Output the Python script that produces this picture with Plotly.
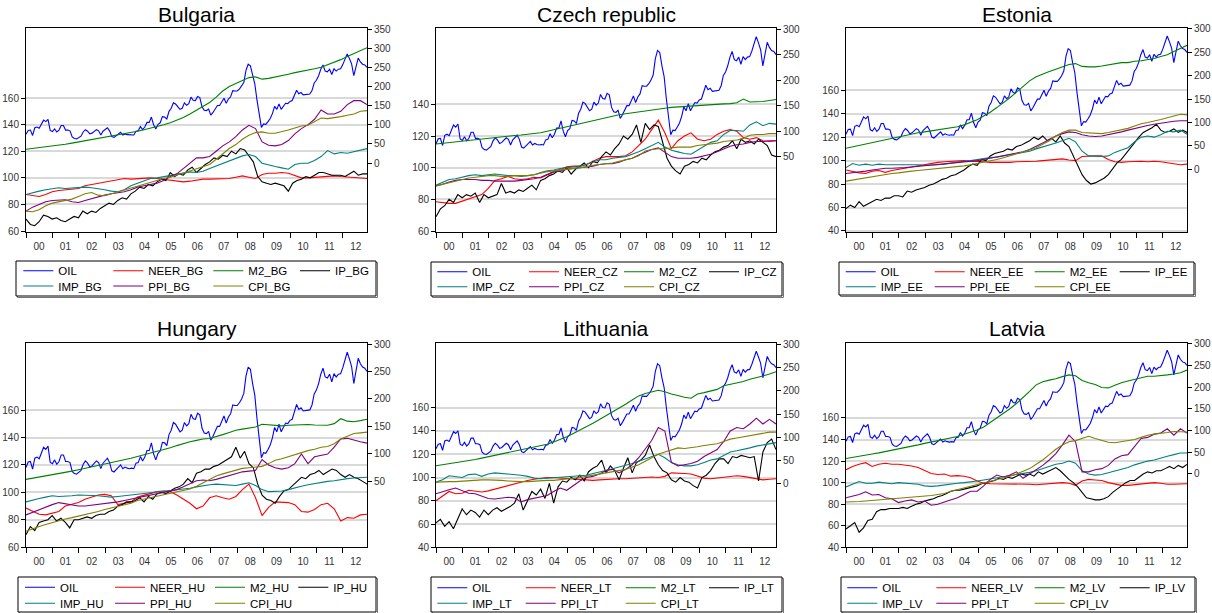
import plotly.graph_objects as go

# ---------------- data (monthly sample 2000M01-2012M12) ----------------
YEAR_LABELS = ["00", "01", "02", "03", "04", "05", "06", "07", "08", "09", "10", "11", "12"]
N_MONTHS = 156

# Oil price index (same series in every panel, right axis), monthly
OIL = [75, 85, 86, 72, 92, 94, 91, 100, 112, 108, 114, 85,
       82, 89, 81, 86, 98, 98, 86, 86, 84, 68, 64, 63,
       66, 70, 81, 87, 83, 76, 78, 82, 87, 84, 73, 83,
       88, 92, 84, 69, 67, 71, 75, 80, 73, 76, 74, 73,
       74, 73, 83, 84, 95, 87, 94, 106, 106, 120, 100, 89,
       101, 105, 121, 120, 115, 135, 143, 157, 154, 146, 140, 143,
       157, 151, 155, 172, 164, 163, 174, 171, 147, 138, 137, 141,
       125, 132, 141, 150, 150, 159, 169, 156, 167, 173, 189, 188,
       188, 193, 200, 210, 242, 258, 254, 228, 207, 164, 125, 93,
       102, 101, 108, 116, 129, 148, 140, 154, 140, 149, 156, 155,
       161, 163, 175, 190, 181, 184, 178, 179, 179, 180, 189, 209,
       216, 228, 245, 256, 240, 238, 245, 231, 246, 240, 245, 246,
       257, 271, 285, 273, 259, 228, 251, 274, 264, 258, 256, 250]

# ---- Bulgaria (quarterly-spaced readings; IP bimonthly-spaced readings)
BG_NEER = [87.5, 86.5, 86, 87.5, 89.5, 90.5, 91, 91, 92, 94, 95, 95.5, 97, 98, 98.5, 99.5, 99, 99.5, 100, 100,
           99.5, 99, 98.5, 98, 97, 97.5, 98.5, 99, 99, 99, 99, 99.5, 100.5, 101.5, 100.5, 99.5, 102.5, 103.5,
           103.5, 104, 103.5, 101.5, 100, 100, 100.5, 101, 101.5, 101.5, 101, 100.5, 100, 99.5, 99.5]
BG_M2 = [36, 38, 40, 42, 44, 47, 49, 52, 55, 58, 61, 64, 67, 70, 73, 76, 79, 83, 87, 91, 95, 100, 105, 111,
         119, 128, 138, 148, 158, 172, 188, 200, 208, 216, 223, 225, 219, 221, 224, 228, 232, 236, 239, 242,
         246, 250, 256, 263, 270, 278, 286, 294, 301]
BG_IP = [69, 65, 64, 67, 72, 71, 69, 70, 68, 67, 69, 71, 70, 75, 73, 75, 74, 77, 79, 81, 80, 83, 85, 84,
         88, 90, 93, 92, 95, 94, 97, 99, 98, 104, 101, 103, 102, 106, 108, 104, 107, 110, 112, 115, 114, 117,
         116, 120, 118, 122, 121, 116, 112, 101, 97, 96, 95, 96, 95, 94, 90, 96, 98, 99, 101, 100, 102, 104,
         104, 103, 102, 102, 102, 101, 103, 105, 102, 103, 103]
BG_IMP = [87.5, 89, 90, 91, 92, 92.5, 92, 92.5, 93, 93, 92.5, 92, 91, 90, 89.5, 91, 94, 96, 98, 99.5, 100, 101,
          102, 102.5, 103.5, 104.5, 104, 105, 107, 109, 111, 113, 115, 116.5, 117.5, 116, 111, 109.5, 108.5,
          107.5, 106.5, 110, 111, 111, 113, 116, 120.5, 118, 119, 118.5, 119.5, 120.5, 122]
BG_PPI = [75, 78, 80, 82, 83, 83.5, 83.5, 82, 81.5, 83, 84.5, 85.5, 87, 88, 88.5, 89.5, 91, 93, 94, 95, 96, 98,
          101, 103, 107, 111, 115, 115, 116, 120, 124, 127, 131, 136, 139.5, 137, 127, 124.5, 124, 125, 128,
          133, 137, 140, 144, 151, 148, 148, 150, 155, 158, 158, 155]
BG_CPI = [75, 74.5, 76, 79, 81, 82, 82.5, 84, 86, 88, 89, 87, 86.5, 88, 89, 90.5, 92, 93.5, 95, 96.5, 98, 99.5,
          100.5, 102, 103.5, 105, 106.5, 108, 110, 114, 118, 122, 125, 129, 132, 134, 134.5, 133.5, 133.5, 134.5,
          136, 137.5, 139, 139.5, 142, 145, 144.5, 145, 146, 147, 148, 150, 150.5]

# ---- Czech republic
CZ_NEER = [78.5, 78, 77.5, 77.5, 79, 80.5, 82, 83, 87, 92, 93, 94.5, 93, 92.5, 93, 94, 93.5, 95.5, 97, 99,
           100.5, 101, 101, 102, 104, 106, 107, 107, 107, 107.5, 110, 114, 118, 124, 130, 122, 112, 117, 120,
           122, 118, 117, 118, 121, 123, 124, 123, 119, 118, 119, 117, 116.5, 117]
CZ_M2 = [75, 76.5, 78, 79.5, 81, 82.5, 84, 85.5, 87, 88, 89, 90, 91.5, 92.5, 94, 95.5, 97, 100, 103, 106, 109,
         112, 115, 118, 121, 124, 127, 129.5, 132, 134, 136, 138, 140, 142, 143.5, 145, 146.5, 147.5, 148.5,
         149.5, 150.5, 151, 151.5, 152.5, 153.5, 154, 155.5, 163, 157, 157.5, 158, 160, 162]
CZ_IP = [69, 74, 76, 80, 78, 83, 81, 83, 82, 84, 78, 83, 81, 82, 83, 90, 84, 85, 84, 86, 85, 87, 89, 86,
         92, 93, 95, 96, 98, 97, 100, 96, 99, 101, 103, 100, 104, 103, 107, 110, 108, 112, 115, 120, 118, 121,
         127, 116, 128, 124, 127, 126, 116, 106, 101, 98, 96, 101, 102, 104, 103, 106, 105, 108, 110, 111,
         113, 114, 117, 112, 118, 116, 117, 115, 118, 116, 114, 108, 107]
CZ_IMP = [89, 91, 92.5, 93, 94, 95, 95.5, 95, 95.5, 96, 95.5, 95, 95, 94.5, 95, 95.5, 97, 98, 98.5, 99.5, 100,
          100.5, 101, 102, 103.5, 105, 105, 106, 106.5, 107, 108.5, 110, 112, 114, 116, 113, 111, 110, 109,
          108.5, 111, 114, 116, 117, 121, 123.5, 123.5, 123, 127, 129, 126.5, 128, 127.5]
CZ_PPI = [88.5, 89.5, 91, 92, 92.5, 92.5, 92.5, 92, 92, 91.5, 91.5, 91.5, 91.5, 92, 92.5, 93, 94, 96, 97.5, 98,
          99, 99.5, 100, 100.5, 101, 102, 102.5, 102.5, 103.5, 105, 106, 108, 110, 111.5, 112.5, 110, 107, 106,
          106, 106, 106.5, 107.5, 108.5, 110, 112, 113.5, 114.5, 115, 116, 116.5, 116.5, 117, 117]
CZ_CPI = [88.5, 89.5, 90.5, 91.5, 92.5, 93.5, 94, 94.5, 95, 95, 94.5, 94.5, 95, 95, 95, 95.5, 96.5, 97.5, 98,
          98.5, 99, 99.5, 100, 100.5, 101.5, 102, 102.5, 103, 104, 105, 106, 107.5, 110.5, 111.5, 112, 112,
          112.5, 113, 113, 113, 114, 114.5, 115, 115.5, 116.5, 117, 117.5, 118.5, 120.5, 121, 121, 121.5, 121.5]

# ---- Estonia
EE_NEER = [92, 90.5, 89.5, 89, 91, 91.5, 90, 91.5, 92.5, 93.5, 94.5, 95.5, 97, 98, 98.5, 99, 99.5, 100, 100,
           99.5, 99.5, 99, 98.5, 98.5, 98, 98.5, 99, 99, 99, 99.5, 100, 100.5, 101, 101.5, 100.5, 100, 103.5,
           104, 104, 104, 101, 99, 98.5, 99, 99.5, 99.5, 99, 99.5, 99, 98, 97, 96.5, 97]
EE_M2 = [45, 48, 51, 54, 57, 60, 63, 66, 70, 73, 75.5, 78, 80, 82, 84, 86, 88, 91, 95, 100, 106, 114, 122, 132,
         142, 153, 165, 177, 189, 198, 204, 209, 214, 219, 224, 226, 220, 219, 219, 221, 223, 226, 228, 228,
         231, 232, 234, 237, 241, 245, 252, 259, 265]
EE_IP = [59, 62, 60, 65, 61, 63, 65, 67, 66, 68, 68, 70, 70, 69, 74, 73, 75, 76, 77, 79, 80, 82, 84, 85,
         87, 88, 90, 92, 95, 97, 96, 101, 100, 104, 106, 107, 108, 110, 109, 112, 113, 115, 117, 120, 118, 121,
         117, 119, 116, 121, 115, 112, 104, 95, 88, 83, 80, 81, 83, 85, 88, 93, 98, 101, 106, 111, 116, 120,
         124, 126, 128, 131, 126, 124, 125, 127, 124, 126, 124]
EE_IMP = [94, 97.5, 96, 97, 96, 97, 96.5, 96.5, 97, 97, 96.5, 96.5, 96, 96, 96.5, 97, 98, 99, 99.5, 100, 101,
          102, 102.5, 103, 104, 105, 106, 107, 108, 110, 111.5, 113, 115, 117, 119, 116, 108, 104, 103.5, 103.5,
          104, 107, 109, 111, 116, 120, 121, 120, 122, 125, 124.5, 126, 122.5]
EE_PPI = [89, 89.5, 90, 91, 92, 93, 93.5, 93.5, 93.5, 94, 94.5, 95, 95.5, 96, 96.5, 97, 97.5, 98, 99, 99.5, 100,
          101, 102, 103, 104, 105, 106, 107.5, 109.5, 112, 115, 118, 121, 123, 124.5, 124, 122, 121, 120.5, 121,
          122, 123.5, 124.5, 126, 127.5, 129, 130, 131, 132, 133, 133.5, 134, 134]
EE_CPI = [82.5, 83.5, 84.5, 85.5, 86.5, 87.5, 88.5, 89, 89.5, 90.5, 91, 91.5, 92, 92.5, 93, 93.5, 94, 95, 95.5,
          96.5, 97.5, 99, 100, 101, 102.5, 104, 105.5, 107, 109, 111, 114, 117, 121, 124, 126, 126, 124, 123.5,
          123, 123, 124, 125, 126, 127.5, 129.5, 131.5, 132.5, 133.5, 135, 136.5, 138, 139.5, 139]

# ---- Hungary
HU_NEER = [88.5, 86, 84, 83.5, 84.5, 86, 90, 91, 92.5, 95, 96.5, 98, 98.5, 97.5, 91, 92, 93, 96.5, 98, 99.5,
           100.5, 101, 100.5, 98, 95, 92, 88, 90, 96, 97.5, 96, 95, 97, 102, 106, 96, 83, 89, 93, 93, 92.5, 91,
           86, 85.5, 87.5, 91, 92, 88, 79, 81.5, 81, 83.5, 84]
HU_M2 = [53.5, 55.5, 57.5, 59.5, 61.5, 63.5, 66, 68.5, 71, 73.5, 76, 79, 81.5, 84, 86.5, 89, 92, 95, 98, 101,
         104, 107.5, 111, 115, 119, 122, 124.5, 127, 128, 131, 135, 139, 143, 145, 147, 149, 154, 153, 152, 151,
         152, 152.5, 153, 153.5, 152.5, 152, 152, 155, 164, 159.5, 158.5, 160.5, 163]
HU_IP = [69, 75, 72, 78, 79, 80, 83, 79, 81, 78, 74, 80, 80, 81, 82, 81, 83, 84, 84, 86, 87, 90, 91, 93,
         93, 94, 96, 93, 97, 95, 99, 100, 99, 101, 103, 104, 106, 110, 107, 114, 115, 117, 117, 119, 120, 122,
         124, 126, 133, 125, 130, 121, 118, 106, 98, 95, 94, 92, 97, 101, 102, 105, 108, 111, 110, 113, 114,
         116, 113, 115, 117, 116, 113, 111, 113, 111, 110, 108, 106]
HU_IMP = [93, 94.5, 95.5, 96.5, 97.5, 97, 97, 97.5, 98, 98, 97.5, 97.5, 97, 96.5, 97, 97.5, 98, 98.5, 99, 99.5,
          100, 100.5, 101, 101.5, 102, 103, 104, 105, 105.5, 106, 105.5, 105, 105, 106, 107, 105, 102, 100.5,
          100.5, 101, 102, 103.5, 104.5, 105.5, 106.5, 107.5, 108, 108.5, 109.5, 110, 110.5, 110.5, 111]
HU_PPI = [83.5, 85.5, 87.5, 89, 91, 92.5, 91.5, 90.5, 90, 90, 90.5, 91, 91.5, 92, 93, 94, 95, 96, 96.5, 97.5,
          98.5, 99.5, 100.5, 102, 104, 106.5, 108.5, 109, 108.5, 109.5, 111, 112.5, 114, 115, 115.5, 116, 124,
          120, 118, 117, 118, 121, 128, 121, 126, 127, 128, 133, 139, 139.5, 138, 137, 136]
HU_CPI = [71.5, 73.5, 75, 76.5, 78, 79.5, 80.5, 81.5, 82.5, 83.5, 84.5, 86, 87.5, 88.5, 89.5, 90.5, 92, 94, 95,
          96, 97.5, 98.5, 99.5, 100.5, 101.5, 102.5, 104.5, 107, 110, 112, 113.5, 115, 116.5, 117.5, 118, 118.5,
          119, 121, 123.5, 124.5, 126, 128, 129, 130.5, 131.5, 133, 133.5, 135.5, 139, 141, 143, 143.5, 144]

# ---- Lithuania
LT_NEER = [80, 84, 88, 86, 86.5, 89, 88, 87.5, 88.5, 90, 91.5, 93, 95, 96.5, 97.5, 98.5, 99.5, 100, 100, 99.5,
           99, 98.5, 98, 98, 97.5, 98, 98.5, 99, 99, 99, 99.5, 99.5, 100, 100.5, 100, 101, 104, 104, 103.5, 103,
           101, 99.5, 99, 99.5, 100, 101, 101.5, 101, 100, 99, 98, 98.5, 99]
LT_M2 = [38.5, 40.5, 43, 45, 47, 49.5, 52, 55, 58, 61, 63.5, 66, 69, 72, 75, 78, 81, 85, 90, 95, 101, 108, 115,
         122, 130, 138, 146, 154, 162, 171, 180, 189, 194, 198, 201, 198, 193, 190, 186, 184, 193, 196, 199, 203,
         211, 214, 217, 220, 225, 228, 232, 236, 241]
LT_IP = [61, 64, 58, 62, 56, 65, 73, 68, 72, 70, 66, 72, 68, 72, 74, 71, 73, 75, 78, 86, 72, 80, 88, 85,
         90, 82, 95, 78, 92, 97, 96, 100, 98, 102, 97, 105, 108, 110, 115, 104, 110, 106, 98, 108, 117, 104,
         113, 115, 119, 128, 118, 111, 106, 104, 98, 96, 100, 97, 96, 93, 91, 100, 102, 106, 112, 116, 116, 112,
         118, 117, 119, 118, 117, 118, 97, 122, 130, 133, 124]
LT_IMP = [96, 98, 101.5, 100.5, 100, 102.5, 103, 101, 103, 104, 103.5, 103.5, 102.5, 102, 101, 99.5, 99, 99.5,
          100, 100.5, 100.5, 101, 101.5, 102, 103.5, 104.5, 106, 107.5, 109, 110, 112, 114, 116, 118, 120, 117,
          113, 111, 110, 110, 111, 113, 115, 116, 119, 122, 123, 124, 125.5, 127, 128, 129, 130]
LT_PPI = [86, 88, 89.5, 91, 89, 86.5, 86, 84, 82, 81.5, 82.5, 83, 82.5, 79, 81, 82, 83, 84.5, 88, 91, 89, 93, 97,
          100, 101, 103, 106, 107, 104, 107, 111, 117, 124, 132, 143, 140, 113, 110, 111, 112, 114, 118, 121, 124,
          131, 140, 143, 142, 146, 151, 146, 150, 146]
LT_CPI = [96, 96.5, 96.5, 96.5, 97, 97.5, 97.5, 98, 98, 98, 97.5, 97, 96.5, 96.5, 96.5, 97, 97, 97.5, 97.5, 98,
          98.5, 99.5, 100, 101, 102, 103, 104, 104.5, 105.5, 107, 109, 111, 114, 117, 120, 122, 124, 125.5, 125,
          125.5, 126.5, 127.5, 128, 129, 131, 133, 134, 135, 136, 137, 138, 139, 139]

# ---- Latvia
LV_NEER = [112, 115, 117, 118.5, 115, 117, 118, 117, 117, 116.5, 115.5, 114, 111, 108.5, 107.5, 108, 106, 106.5,
           106, 104.5, 101.5, 99.5, 99, 99, 98.5, 98.5, 99, 99, 98.5, 98, 98.5, 99, 99.5, 100, 99.5, 97.5, 101.5,
           103, 102.5, 102, 100, 98.5, 97.5, 97.5, 98, 98.5, 99, 100, 99.5, 98.5, 98.5, 99, 99]
LV_M2 = [35, 38, 41, 43, 45.5, 48, 51, 53.5, 56, 59.5, 63, 66.5, 70, 73, 76, 79, 81.5, 86, 91, 96, 101, 108, 118,
         128, 139, 150, 162, 175, 190, 205, 212, 216, 219, 224, 228, 226, 215, 210, 206, 199, 198, 204, 210, 214,
         218, 222, 225, 225, 226, 228, 230, 233, 239]
LV_IP = [57, 60, 63, 54, 58, 65, 66, 73, 75, 75, 76, 76, 76, 77, 76, 78, 80, 81, 83, 84, 85, 87, 88, 90,
         92, 93, 93, 94, 95, 96, 97, 99, 100, 101, 102, 104, 103, 105, 104, 106, 108, 107, 108, 106, 110, 108,
         110, 112, 114, 111, 107, 103, 100, 96, 91, 86, 85, 84, 84, 85, 87, 91, 94, 97, 100, 102, 102, 105, 108,
         110, 109, 111, 111, 113, 115, 113, 116, 114, 117]
LV_IMP = [96, 98.5, 101, 99.5, 99.5, 100.5, 99.5, 99, 100, 99.5, 98.5, 98.5, 97, 96.5, 97, 98, 99, 99.5, 100,
          100.5, 101.5, 102.5, 103.5, 104, 105, 106.5, 107, 108, 109.5, 111, 113, 115, 117, 118, 120, 118, 111,
          108, 107, 107.5, 109, 111, 112.5, 114, 116.5, 118.5, 120, 121, 123, 124.5, 126, 127.5, 127.5]
LV_PPI = [86, 87.5, 89, 91.5, 88.5, 89, 86, 85, 81.5, 83, 84, 82, 83, 79, 80, 82, 84, 86, 89, 92, 92, 97, 103,
          107, 105, 107, 110, 104, 108, 112, 116, 121, 127, 135, 144, 138, 110, 110, 112, 113, 116, 122, 125, 126,
          133, 141, 142, 145, 146, 150, 144, 150, 146]
LV_CPI = [82, 82, 82.5, 83, 83.5, 84, 84.5, 85, 85.5, 86, 86.5, 86.5, 87, 88, 89, 90, 92, 93.5, 95, 96.5, 98.5,
          100, 101.5, 103, 104.5, 106, 108, 110.5, 113, 117, 121, 126, 131, 135, 138, 139, 141, 143, 141, 139,
          137.5, 137, 138, 139, 140, 142, 144, 145, 145.5, 146.5, 147.5, 147.5, 147]

COUNTRIES = ["Bulgaria", "Czech republic", "Estonia", "Hungary", "Lithuania", "Latvia"]
CODES = ["BG", "CZ", "EE", "HU", "LT", "LV"]
PPI_LABEL_CODES = ["BG", "CZ", "EE", "HU", "LT", "LT"]  # Latvia legend reads PPI_LT

DATA = {
    "BG": {"NEER": BG_NEER, "M2": BG_M2, "IP": BG_IP, "IMP": BG_IMP, "PPI": BG_PPI, "CPI": BG_CPI},
    "CZ": {"NEER": CZ_NEER, "M2": CZ_M2, "IP": CZ_IP, "IMP": CZ_IMP, "PPI": CZ_PPI, "CPI": CZ_CPI},
    "EE": {"NEER": EE_NEER, "M2": EE_M2, "IP": EE_IP, "IMP": EE_IMP, "PPI": EE_PPI, "CPI": EE_CPI},
    "HU": {"NEER": HU_NEER, "M2": HU_M2, "IP": HU_IP, "IMP": HU_IMP, "PPI": HU_PPI, "CPI": HU_CPI},
    "LT": {"NEER": LT_NEER, "M2": LT_M2, "IP": LT_IP, "IMP": LT_IMP, "PPI": LT_PPI, "CPI": LT_CPI},
    "LV": {"NEER": LV_NEER, "M2": LV_M2, "IP": LV_IP, "IMP": LV_IMP, "PPI": LV_PPI, "CPI": LV_CPI},
}

# ---------------- style / layout ----------------
W, H = 1212, 613
FONT = "Liberation Sans, Arial, sans-serif"
COLORS = {"OIL": "#0000FF", "NEER": "#FF0000", "M2": "#008000", "IP": "#000000",
          "IMP": "#008080", "PPI": "#800080", "CPI": "#808000"}
RIGHT_AXIS = {"OIL", "M2"}
ROW1 = ["OIL", "NEER", "M2", "IP"]
ROW2 = ["IMP", "PPI", "CPI"]

PANELS = [
    dict(px=(26, 367), py=(28, 232), yl=(59.3, 212.6), yr=(-180.2, 352.6), lt=(60, 160), rt=(0, 350),
         lx=18.3, rows=(270.7, 286.0), pitch=(90, 100, 86.7), box=(16, 261, 376, 296), ty=14.5),
    dict(px=(436, 776), py=(28, 232), yl=(59.4, 188.2), yr=(-97.4, 302.0), lt=(60, 140), rt=(50, 300),
         lx=432.3, rows=(271.7, 286.7), pitch=(91.7, 95, 85), box=(431, 262, 782, 296), ty=14.5),
    dict(px=(846, 1187), py=(28, 232), yl=(39.1, 213.1), yr=(-134.0, 302.1), lt=(40, 160), rt=(0, 300),
         lx=840.7, rows=(271.7, 286.7), pitch=(89, 100, 85), box=(839, 262, 1194, 295), ty=14.5),
    dict(px=(26, 367), py=(343.3, 547.3), yl=(59.8, 209.0), yr=(-70.2, 301.3), lt=(60, 160), rt=(50, 300),
         lx=20, rows=(587.3, 603.3), pitch=(90, 100, 83.3), box=(18, 577, 376, 612), ty=328),
    dict(px=(436, 776), py=(343.3, 547.3), yl=(40.0, 215.4), yr=(-136.9, 302.2), lt=(40, 160), rt=(0, 300),
         lx=432.3, rows=(587.7, 603.3), pitch=(88.4, 100, 83.3), box=(431, 577, 782, 612), ty=328),
    dict(px=(846, 1187), py=(343.3, 547.3), yl=(40.0, 229.3), yr=(-169.8, 300.9), lt=(40, 160), rt=(0, 300),
         lx=842.3, rows=(587.7, 603.3), pitch=(89, 98.4, 85), box=(841, 577, 1195, 612), ty=328),
]


def fx(p):
    return p / W


def fy(p):
    return 1 - p / H


def xpos(n):
    return [i * (N_MONTHS - 1) / (n - 1) for i in range(n)]


fig = go.Figure()
layout = dict(
    width=W, height=H,
    margin=dict(l=0, r=0, t=0, b=0, autoexpand=False),
    paper_bgcolor="white", plot_bgcolor="white",
    font=dict(family=FONT, color="#222222", size=10),
    showlegend=True,
)
shapes = []
annotations = []

for i, (country, code) in enumerate(zip(COUNTRIES, CODES)):
    g = PANELS[i]
    xa = "x" if i == 0 else f"x{i + 1}"
    yl = "y" if i == 0 else f"y{i + 1}"
    yr = f"y{i + 7}"
    leg1 = "legend" if i == 0 else f"legend{2 * i + 1}"
    leg2 = f"legend{2 * i + 2}"

    series = dict(DATA[code])
    series["OIL"] = OIL
    for name in ROW1 + ROW2:
        vals = series[name]
        if name == "OIL":
            label = "OIL"
        elif name == "PPI":
            label = f"PPI_{PPI_LABEL_CODES[i]}"
        else:
            label = f"{name}_{code}"
        in_row1 = name in ROW1
        col = (ROW1 if in_row1 else ROW2).index(name)
        lw = g["pitch"][col] - 45 if col < 3 else 40
        fig.add_trace(go.Scatter(
            x=xpos(len(vals)), y=vals, mode="lines", name=label,
            line=dict(color=COLORS[name], width=1.1),
            xaxis=xa, yaxis=yr if name in RIGHT_AXIS else yl,
            legend=leg1 if in_row1 else leg2, legendwidth=lw,
            hoverinfo="skip",
        ))

    pw = g["px"][1] - g["px"][0]
    xkey = "xaxis" if i == 0 else f"xaxis{i + 1}"
    ylkey = "yaxis" if i == 0 else f"yaxis{i + 1}"
    yrkey = f"yaxis{i + 7}"
    layout[xkey] = dict(
        domain=[fx(g["px"][0]), fx(g["px"][1])], anchor=yl, range=[0, N_MONTHS - 1],
        tickmode="array", tickvals=[12 * k for k in range(len(YEAR_LABELS))], ticktext=YEAR_LABELS,
        ticks="outside", ticklen=5, tickcolor="black", tickwidth=1,
        ticklabelshift=int(round(pw / (N_MONTHS - 1) * 6)),
        showline=True, linecolor="black", linewidth=1, mirror=True,
        showgrid=False, zeroline=False, tickfont=dict(size=10, color="#333333"),
        fixedrange=True,
    )
    layout[ylkey] = dict(
        domain=[fy(g["py"][1]), fy(g["py"][0])], anchor=xa, range=list(g["yl"]),
        tickmode="array", tickvals=list(range(g["lt"][0], g["lt"][1] + 1, 20)),
        ticks="outside", ticklen=4, tickcolor="black",
        showline=True, linecolor="black", linewidth=1, mirror=True,
        showgrid=True, gridcolor="#d9d9d9", gridwidth=1.5, zeroline=False,
        tickfont=dict(size=10, color="#333333"), fixedrange=True,
    )
    layout[yrkey] = dict(
        overlaying=yl, side="right", anchor=xa, range=list(g["yr"]),
        tickmode="array", tickvals=list(range(g["rt"][0], g["rt"][1] + 1, 50)),
        ticks="outside", ticklen=4, tickcolor="black",
        showline=False, showgrid=False, zeroline=False,
        tickfont=dict(size=10, color="#333333"), fixedrange=True,
    )
    for leg, rc in ((leg1, g["rows"][0]), (leg2, g["rows"][1])):
        layout[leg] = dict(
            x=fx(g["lx"]), y=fy(rc - 14.5), xanchor="left", yanchor="top",
            orientation="h", bgcolor="rgba(0,0,0,0)", borderwidth=0,
            font=dict(family=FONT, size=11.5, color="#000000"),
            tracegroupgap=0, itemclick=False, itemdoubleclick=False,
        )
    bx0, by0, bx1, by1 = g["box"]
    shapes.append(dict(type="rect", xref="paper", yref="paper",
                       x0=fx(bx0 + 1.5), x1=fx(bx1 + 1.5), y0=fy(by1 + 1.5), y1=fy(by0 + 1.5),
                       line=dict(color="#777777", width=1), fillcolor="rgba(0,0,0,0)", layer="above"))
    shapes.append(dict(type="rect", xref="paper", yref="paper",
                       x0=fx(bx0), x1=fx(bx1), y0=fy(by1), y1=fy(by0),
                       line=dict(color="black", width=1), fillcolor="white", layer="above"))
    annotations.append(dict(
        text=country, xref="paper", yref="paper",
        x=fx((g["px"][0] + g["px"][1]) / 2), y=fy(g["ty"]),
        xanchor="center", yanchor="middle", showarrow=False,
        font=dict(family=FONT, size=21, color="black"),
    ))

layout["shapes"] = shapes
layout["annotations"] = annotations
fig.update_layout(**layout)
fig.write_html(
    "out.html",
    config={"displayModeBar": False},
    post_script="document.body.style.margin='0';document.body.style.padding='0';"
                "document.body.style.overflow='hidden';",
)
